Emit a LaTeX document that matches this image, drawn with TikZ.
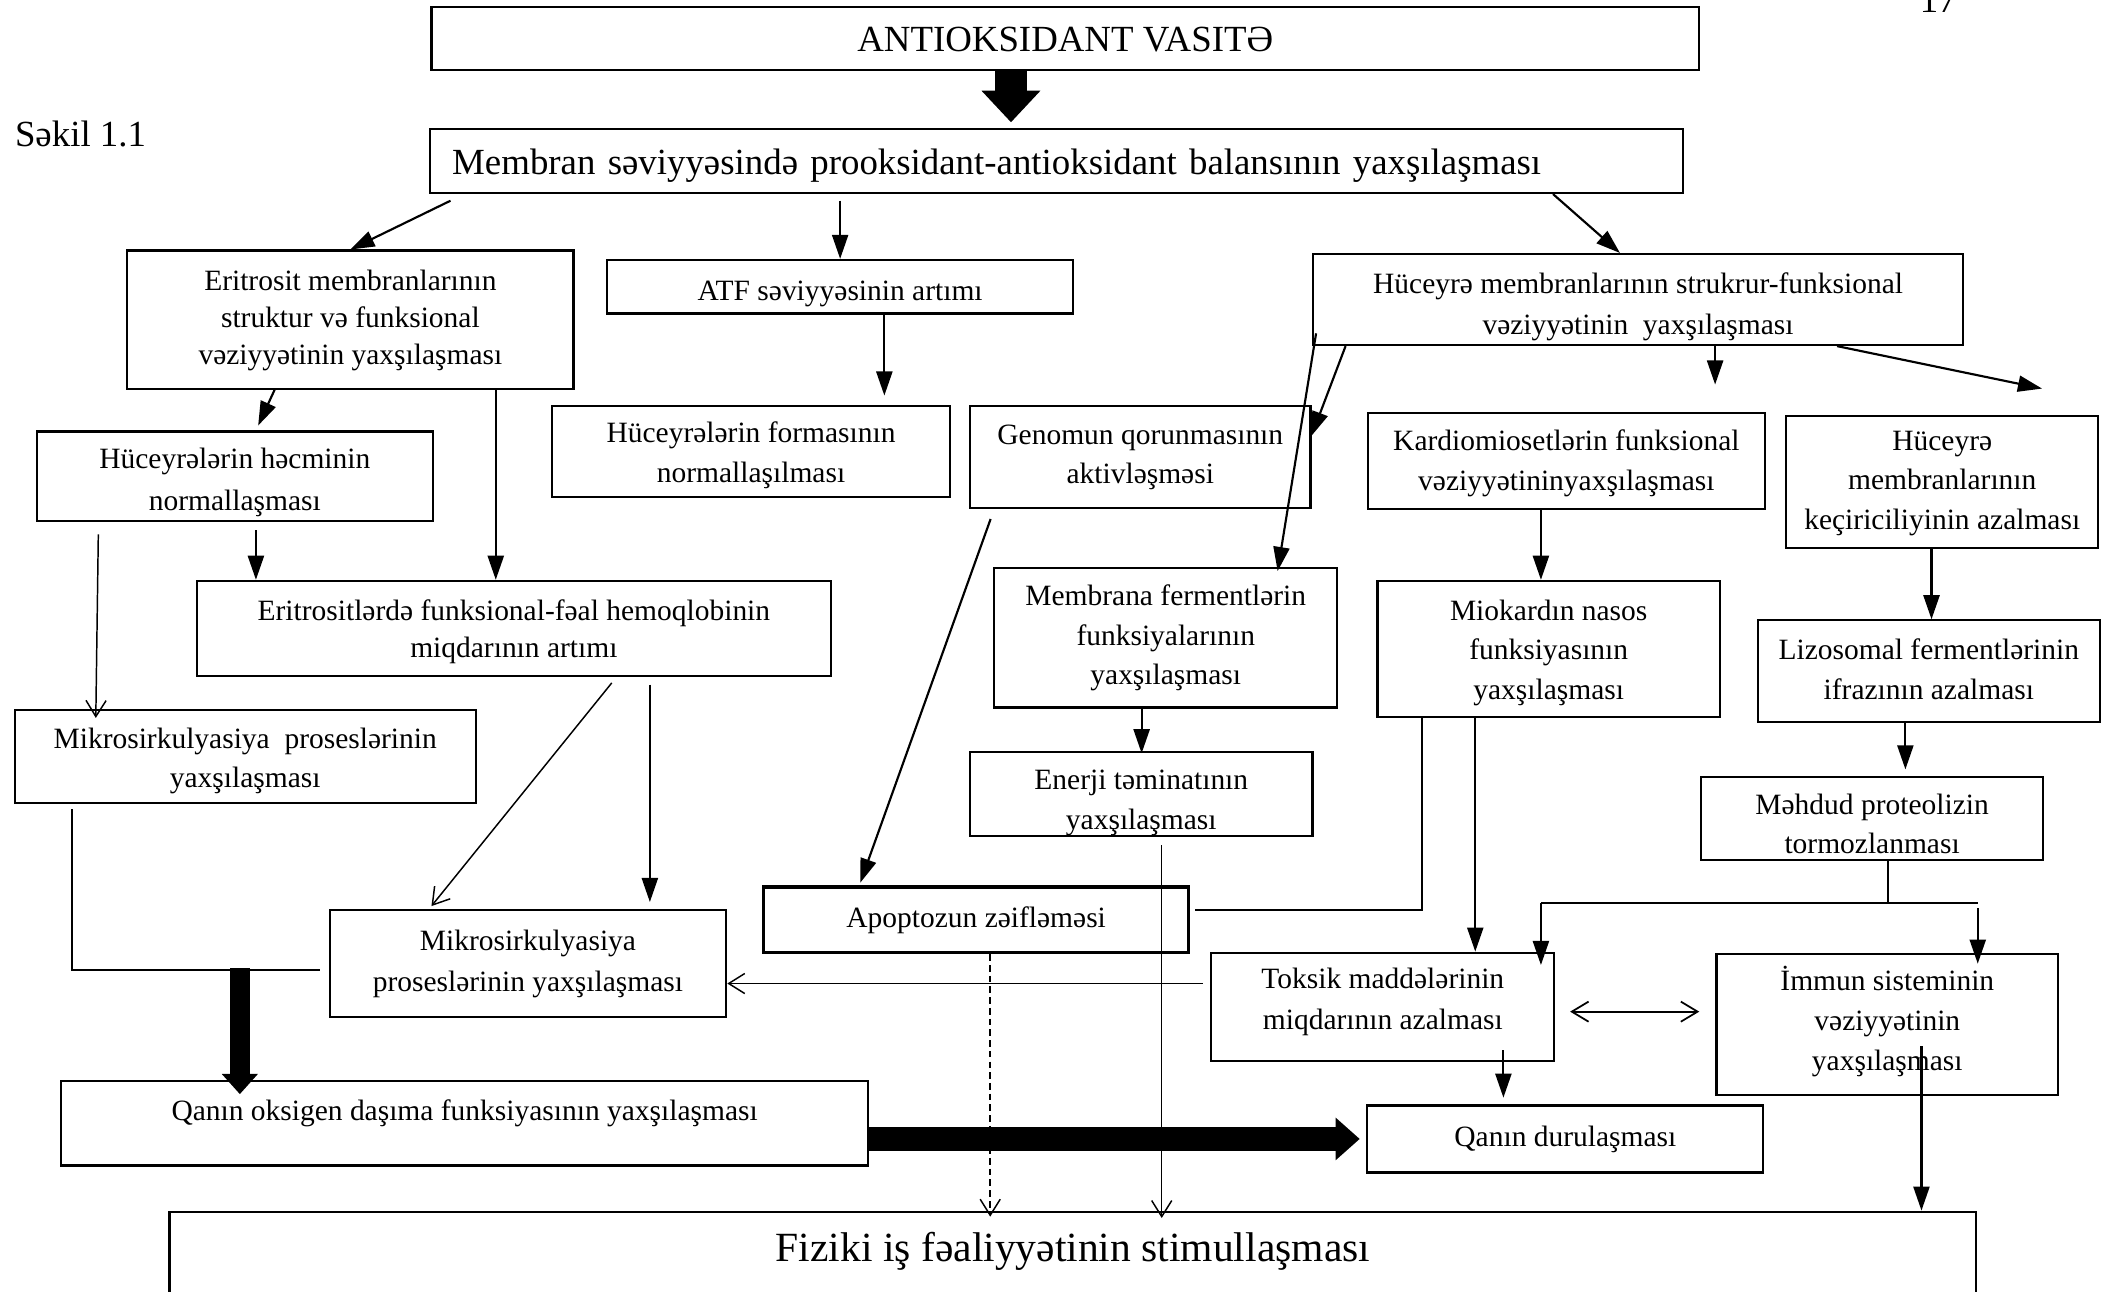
\documentclass[tikz,border=0pt]{standalone}
\usepackage{fontspec}
\setmainfont{Liberation Serif}
\usetikzlibrary{arrows.meta}
\newcommand{\smtxt}{\fontsize{22}{29.5}\selectfont}
\newcommand{\smtxtb}{\fontsize{22}{27.5}\selectfont}
\newcommand{\bigtxt}{\fontsize{27.5}{32}\selectfont}
\newcommand{\hugetxt}{\fontsize{31}{36}\selectfont}
\begin{document}
\begin{tikzpicture}[x=1pt,y=-1pt,
  box/.style={draw,line width=1.6pt,inner sep=0pt,align=center,font=\smtxt},
  tb/.style 2 args={text height=#1pt,text depth=#2pt},
  arr/.style={line width=1.6pt,-{Triangle[length=18pt,width=12pt]}},
  oarr/.style={line width=1.1pt,-{Straight Barb[length=12pt,width=15pt]}},
  darr/.style={line width=1.3pt,{Straight Barb[length=12.5pt,width=15pt]}-{Straight Barb[length=12.5pt,width=15pt]}},
  ln/.style={line width=1.3pt},
  fatone/.style={line width=24pt,-{Triangle[length=23.5pt,width=44pt,line width=0pt]},shorten >=4pt},
  fattwo/.style={line width=15pt,-{Triangle[length=15pt,width=27pt,line width=0pt]}},
  fatthree/.style={line width=18pt,-{Triangle[length=18pt,width=32pt,line width=0pt]}}]
\useasboundingbox (0,0) rectangle (1568,964);
% nodes
\node[box,minimum width=946pt,tb={33}{13.5},font=\bigtxt] (ttl) at (795,28.75) {ANTIOKSIDANT VASITƏ};
\node[box,minimum width=935pt,tb={34.5}{13.5},text width=902pt,inner xsep=16.5pt,align=left,font=\bigtxt] (mem) at (788.5,120) {Membran səviyyəsində prooksidant-antioksidant balansının yaxşılaşması};
\node[anchor=west,font=\bigtxt,inner sep=0pt] (sek) at (11,100) {Səkil 1.1};
\node[anchor=base,font=\bigtxt,inner sep=0pt] (pg) at (1446.5,9) {17};
\node[box,minimum width=333pt,tb={85}{18},font=\smtxtb] (eri) at (261.5,238.5) {Eritrosit membranlarının\\struktur və funksional\\vəziyyətinin yaxşılaşması};
\node[box,minimum width=348pt,tb={30}{10}] (atf) at (627,214) {ATF səviyyəsinin artımı};
\node[box,minimum width=485pt,tb={60.4}{7.5},font=\fontsize{22}{31}\selectfont] (huc) at (1222.5,223.55) {Hüceyrə membranlarının strukrur-funksional\\vəziyyətinin\ \ yaxşılaşması};
\node[box,minimum width=297pt,tb={57}{11}] (form) at (560.5,337) {Hüceyrələrin formasının\\normallaşılması};
\node[box,minimum width=254pt,tb={58}{18}] (gen) at (851,341) {Genomun qorunmasının\\aktivləşməsi};
\node[box,minimum width=296pt,tb={58}{14}] (kard) at (1169,344) {Kardiomiosetlərin funksional\\vəziyyətininyaxşılaşması};
\node[box,minimum width=233pt,tb={84.5}{14}] (kec) at (1449.5,359.75) {Hüceyrə\\membranlarının\\keçiriciliyinin azalması};
\node[box,minimum width=295.5pt,tb={59}{8},font=\fontsize{22}{31}\selectfont] (hecm) at (175.25,355.5) {Hüceyrələrin həcminin\\normallaşması};
\node[box,minimum width=473pt,tb={57.5}{13.6},font=\fontsize{22}{28}\selectfont] (erit) at (383.5,469.05) {Eritrositlərdə funksional-fəal hemoqlobinin\\miqdarının artımı};
\node[box,minimum width=344pt,tb={58}{11}] (mikl) at (183,564.5) {Mikrosirkulyasiya\ \ proseslərinin\\yaxşılaşması};
\node[box,minimum width=296pt,tb={61}{19},font=\fontsize{22}{31}\selectfont] (mikm) at (394,719) {Mikrosirkulyasiya\\proseslərinin yaxşılaşması};
\node[box,minimum width=256pt,tb={87}{17}] (memf) at (870,476) {Membrana fermentlərin\\funksiyalarının\\yaxşılaşması};
\node[box,minimum width=255.5pt,tb={58}{5}] (ener) at (851.75,592.5) {Enerji təminatının\\yaxşılaşması};
\node[box,line width=2.4pt,minimum width=317pt,tb={30}{19}] (apo) at (728.5,686.5) {Apoptozun zəifləməsi};
\node[box,minimum width=255.6pt,tb={88.5}{13}] (miok) at (1155.8,484.25) {Miokardın nasos\\funksiyasının\\yaxşılaşması};
\node[box,minimum width=255pt,tb={59}{17},font=\fontsize{22}{30}\selectfont] (liz) at (1439.5,501) {Lizosomal fermentlərinin\\ifrazının azalması};
\node[box,minimum width=255pt,tb={57.4}{5}] (mehd) at (1397.15,610.8) {Məhdud proteolizin\\tormozlanması};
\node[box,minimum width=256pt,tb={57}{24},font=\fontsize{22}{30}\selectfont] (tok) at (1032,751.5) {Toksik maddələrinin\\miqdarının azalması};
\node[box,minimum width=255pt,tb={87}{18},font=\fontsize{22}{30}\selectfont] (imm) at (1408.5,764.5) {İmmun sisteminin\\vəziyyətinin\\yaxşılaşması};
\node[box,minimum width=295.5pt,tb={31}{19}] (dur) at (1168.25,850) {Qanın durulaşması};
\node[box,minimum width=602.5pt,tb={29.7}{33.3},anchor=north] (qox) at (346.75,806) {Qanın oksigen daşıma funksiyasının yaxşılaşması};
\node[box,minimum width=1348.5pt,tb={37.5}{80},anchor=north,font=\hugetxt] (fiz) at (800.75,903.5) {Fiziki iş fəaliyyətinin stimullaşması};
% free ends
\coordinate (jR) at (239,724);
\coordinate (jT) at (179,722.6);
\coordinate (f1) at (1280,287);
\coordinate (f2) at (1524,290);
\coordinate (sp) at (1409,674);
\coordinate (hL) at (1150,674);
\coordinate (hR) at (1476,674);
% connectors
\draw[fatone] ([xshift=-40.5pt]ttl.south) -- ([xshift=-34pt]mem.north);
\draw[arr] ([xshift=16pt,yshift=-5pt]mem.south west) -- (eri.north);
\draw[arr] ([xshift=-161.5pt,yshift=-5pt]mem.south) -- (atf.north);
\draw[arr] ([xshift=370.5pt]mem.south) -- ([xshift=-13.5pt]huc.north);
\draw[arr,shorten >=7pt] ([xshift=33pt]atf.south) -- ([xshift=99.5pt]form.north);
\draw[arr,shorten >=4pt] ([xshift=-56.5pt]eri.south) -- ([xshift=15.75pt]hecm.north);
\draw[arr] ([xshift=108.5pt]eri.south) -- ([xshift=-13.5pt]erit.north);
\draw[arr,shorten <=6pt] ([xshift=15.75pt]hecm.south) -- ([xshift=-192.5pt]erit.north);
\draw[oarr,shorten <=9pt] ([xshift=-101.75pt]hecm.south) -- ([xshift=-111.5pt,yshift=-6.6pt]mikl.north);
\draw[ln,shorten <=4pt] ([xshift=-129.5pt]mikl.south) |- (jR);
\draw[fattwo] (jT) -- ([xshift=-167.75pt,yshift=-10.5pt]qox.north);
\draw[oarr,shorten <=5.5pt] ([xshift=76.5pt]erit.south) -- ([xshift=-72pt,yshift=2pt]mikm.north);
\draw[arr,shorten <=5.5pt,shorten >=5pt] ([xshift=101.5pt]erit.south) -- ([xshift=91pt]mikm.north);
\draw[arr,shorten <=8pt] ([xshift=-109pt]gen.south) -- ([xshift=-86.5pt,yshift=2pt]apo.north);
\draw[arr] ([xshift=25pt]huc.south west) -- ([yshift=-23pt]gen.north east);
\draw[arr] ([xshift=3pt,yshift=9.5pt]huc.south west) -- ([xshift=83.5pt,yshift=-3pt]memf.north);
\draw[arr] ([xshift=57.5pt]huc.south) -- (f1);
\draw[arr] ([xshift=148.5pt]huc.south) -- (f2);
\draw[arr] ([xshift=-19pt]kard.south) -- ([xshift=-5.8pt]miok.north);
\draw[arr] ([xshift=-8pt]kec.south) -- ([xshift=2pt]liz.north);
\draw[arr,shorten >=4.6pt] ([xshift=-17.5pt]liz.south) -- ([xshift=24.85pt]mehd.north);
\draw[arr] ([xshift=-18pt]memf.south) -- ([xshift=0.25pt,yshift=-2pt]ener.north);
\draw[oarr,shorten <=6pt] ([xshift=15.25pt]ener.south) -- ([xshift=66.25pt,yshift=-5.5pt]fiz.north);
\draw[oarr,dash pattern=on 5pt off 3pt] ([xshift=10.5pt]apo.south) -- ([xshift=-61.75pt,yshift=-4.5pt]fiz.north);
\draw[ln] ([xshift=-94.8pt]miok.south) |- ([xshift=4pt,yshift=7.5pt]apo.east);
\draw[arr] ([xshift=-54.8pt]miok.south) -- ([xshift=69pt]tok.north);
\draw[ln] ([xshift=11.85pt]mehd.south) -- (sp);
\draw[ln] (hL) -- (hR);
\draw[arr] (hL) -- ([xshift=118pt,yshift=-10pt]tok.north);
\draw[arr,shorten <=4pt] (hR) -- ([xshift=67.5pt,yshift=-8pt]imm.north);
\draw[oarr] ([xshift=-5.5pt,yshift=17.5pt]tok.west) -- ([yshift=-15pt]mikm.east);
\draw[darr] ([xshift=11pt,yshift=-3.5pt]tok.east) -- ([xshift=-12pt,yshift=9.5pt]imm.west);
\draw[arr,shorten >=5pt] ([xshift=90pt,yshift=9pt]tok.south) -- ([xshift=-46.25pt]dur.north);
\draw[arr] ([xshift=25.5pt,yshift=37pt]imm.south) -- ([xshift=633.25pt]fiz.north);
\draw[fatthree,shorten >=5pt] (qox.east |- dur.west) -- (dur.west);
\end{tikzpicture}
\end{document}
